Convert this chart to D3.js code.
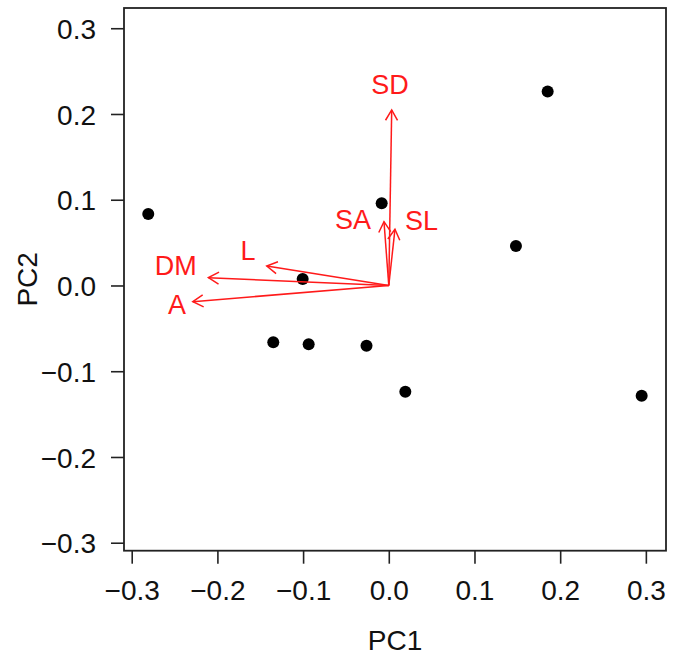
<!DOCTYPE html>
<html>
<head>
<meta charset="utf-8">
<script src="https://cdn.jsdelivr.net/npm/d3@7"></script>
<style>
  body { margin: 0; background: #fff; }
  text { font-family: "Liberation Sans", Arial, sans-serif; }
</style>
</head>
<body>
<svg id="chart" width="681" height="657"></svg>
<script>
// scores (PC1, PC2)
const pc1 = [-0.2807, -0.0083, 0.1854, 0.1484, -0.1005, -0.1348, -0.0935, -0.026, 0.0193, 0.2951];
const pc2 = [0.0834, 0.0959, 0.2261, 0.0461, 0.0076, -0.0663, -0.0686, -0.0702, -0.1239, -0.1286];

// loadings (arrow tips) and label spots
const vars = ['SD', 'SA', 'SL', 'L', 'DM', 'A'];
const loadX = [0.0034, -0.0056, 0.0072, -0.1424, -0.2105, -0.2287];
const loadY = [0.2047, 0.0744, 0.0655, 0.0227, 0.0091, -0.0189];
const labX = [0.0014, -0.0417, 0.0381, -0.1642, -0.2487, -0.247];
const labY = [0.235, 0.0776, 0.0764, 0.0414, 0.0239, -0.0216];

const ticks = [-0.3, -0.2, -0.1, 0.0, 0.1, 0.2, 0.3];

const margin = { top: 8, left: 124, right: 15, bottom: 106.3 };
const width = 681, height = 657;
const fontSize = 28;

const svg = d3.select('#chart');

const x = d3.scaleLinear().domain([-0.309, 0.3235]).range([margin.left, width - margin.right]);
const y = d3.scaleLinear().domain([-0.3093, 0.3236]).range([height - margin.bottom, margin.top]);

const fmt = d => d3.format('.1f')(d).replace('-', '\u2212');

// x axis
svg.append('g')
    .attr('transform', `translate(0, ${height - margin.bottom})`)
    .call(d3.axisBottom(x).tickValues(ticks).tickSize(13).tickFormat(fmt))
    .call(g => g.select('.domain').remove())
    .call(g => g.selectAll('.tick line').attr('stroke', '#222').attr('stroke-width', 1.6))
    .call(g => g.selectAll('.tick text')
        .attr('y', 29.5).attr('dy', '0.71em')
        .attr('font-size', fontSize).attr('fill', '#111')
        .attr('font-family', '"Liberation Sans", Arial, sans-serif'));

// y axis
svg.append('g')
    .attr('transform', `translate(${margin.left}, 0)`)
    .call(d3.axisLeft(y).tickValues(ticks).tickSize(13).tickFormat(fmt))
    .call(g => g.select('.domain').remove())
    .call(g => g.selectAll('.tick line').attr('stroke', '#222').attr('stroke-width', 1.6))
    .call(g => g.selectAll('.tick text')
        .attr('x', -28).attr('dy', '0.36em')
        .attr('font-size', fontSize).attr('fill', '#111')
        .attr('font-family', '"Liberation Sans", Arial, sans-serif'));

// box
svg.append('rect')
    .attr('x', margin.left).attr('y', margin.top)
    .attr('width', width - margin.left - margin.right)
    .attr('height', height - margin.top - margin.bottom)
    .attr('fill', 'none').attr('stroke', '#222').attr('stroke-width', 1.8);

// axis titles
svg.append('text')
    .attr('x', (margin.left + width - margin.right) / 2)
    .attr('y', 650)
    .attr('text-anchor', 'middle')
    .attr('font-size', fontSize).attr('fill', '#111')
    .text('PC1');

svg.append('text')
    .attr('transform', `translate(36.5, ${(margin.top + height - margin.bottom) / 2}) rotate(-90)`)
    .attr('text-anchor', 'middle')
    .attr('font-size', fontSize).attr('fill', '#111')
    .text('PC2');

// points
svg.append('g')
    .selectAll('circle')
    .data(pc1)
    .join('circle')
    .attr('cx', d => x(d))
    .attr('cy', (d, i) => y(pc2[i]))
    .attr('r', 6)
    .attr('fill', '#000');

// arrows
const red = '#ff1a1a';
const headLen = 12, headAng = Math.PI / 6;
const arrows = svg.append('g').attr('stroke', red).attr('stroke-width', 1.5).attr('fill', 'none');
vars.forEach((v, i) => {
    const x0 = x(0), y0 = y(0);
    const x1 = x(loadX[i]), y1 = y(loadY[i]);
    const a = Math.atan2(y1 - y0, x1 - x0);
    arrows.append('line')
        .attr('x1', x0).attr('y1', y0).attr('x2', x1).attr('y2', y1);
    arrows.append('path')
        .attr('d', d3.line()([
            [x1 - headLen * Math.cos(a - headAng), y1 - headLen * Math.sin(a - headAng)],
            [x1, y1],
            [x1 - headLen * Math.cos(a + headAng), y1 - headLen * Math.sin(a + headAng)]
        ]));
});

svg.append('g')
    .selectAll('text')
    .data(vars)
    .join('text')
    .attr('x', (d, i) => x(labX[i]))
    .attr('y', (d, i) => y(labY[i]))
    .attr('dy', '0.36em')
    .attr('text-anchor', 'middle')
    .attr('font-size', 27)
    .attr('fill', red)
    .text(d => d);
</script>
</body>
</html>
